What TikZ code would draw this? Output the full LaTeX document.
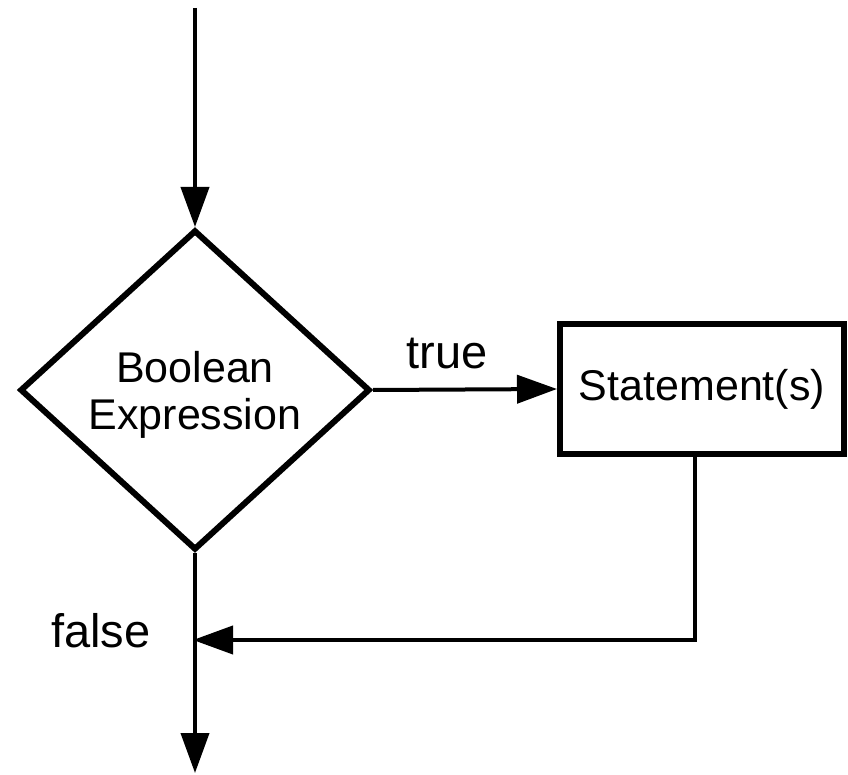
\documentclass[tikz,border=0pt]{standalone}
\usepackage{fontspec}
\setmainfont{Liberation Sans}
\usetikzlibrary{shapes.geometric,arrows.meta}

\begin{document}
\begin{tikzpicture}[x=1pt,y=-1pt,
  flow/.style={line width=4pt,-{Triangle[length=40pt,width=28pt]}},
  decision/.style={diamond,draw,line width=6pt,inner sep=0pt,aspect=1.1,
    minimum width=350pt,minimum height=320pt,align=center,text height=88pt},
  process/.style={rectangle,draw,line width=6pt,minimum width=284pt,
    minimum height=129pt},
  lbl/.style={font=\fontsize{43}{47}\selectfont},
  branch/.style={font=\fontsize{47}{52}\selectfont,anchor=base}]

\useasboundingbox (0,0) rectangle (848,775);

\node[decision,lbl] (cond) at (195,390) {Boolean\\Expression};

\node[process,lbl] (stmt) at (702,389) {Statement(s)};

\coordinate (start) at (195,8);
\coordinate (finish) at (195,773);
\coordinate (turn) at (695,640);
\coordinate (join) at (195,640);

\draw[flow] (start) -- (cond.north);

\draw[flow] (cond.east) -- (stmt.west);

\draw[flow] (cond.south) -- (finish);

\draw[flow] (stmt.south -| turn) -- (turn) -- ([xshift=-2pt]join);

\node[branch] (truelbl) at (447,368) {true};

\node[branch] (falselbl) at (101,647) {false};

\end{tikzpicture}
\end{document}
